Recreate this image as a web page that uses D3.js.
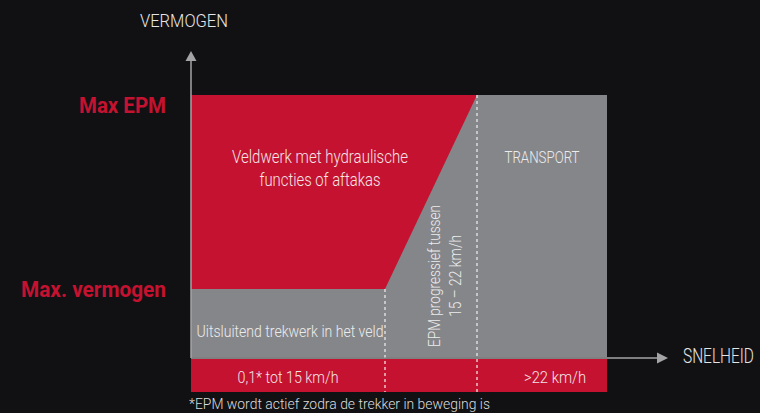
<!DOCTYPE html>
<html>
<head>
<meta charset="utf-8">
<script src="https://cdn.jsdelivr.net/npm/d3@7"></script>
<style>
  html, body { margin: 0; padding: 0; background: #111114; }
  svg { display: block; }
  text { font-family: "Roboto", "Liberation Sans", sans-serif; }
</style>
</head>
<body>
<div id="chart"></div>
<script>
// Data
var speedBreaks = [0, 15, 22, 32];          // km/h, last one = end of drawn range
var powerLevels = [0, 100, 380];            // 0, max. vermogen, max EPM (relative)
var levelLabels = ["Max. vermogen", "Max EPM"];
var zoneLabels = ["0,1* tot 15 km/h", "", ">22 km/h"];
var axisTitles = ["VERMOGEN", "SNELHEID"];
var footnote = "*EPM wordt actief zodra de trekker in beweging is";

var width = 760, height = 413;
var red = "#c41230", grey = "#858689", axisCol = "#a4a4a6";

var x = d3.scaleLinear().domain(speedBreaks).range([191, 385, 477, 607]);
var y = d3.scaleLinear().domain(powerLevels).range([358, 289, 95]);

var svg = d3.select("#chart").append("svg")
    .attr("width", width)
    .attr("height", height);

svg.append("rect").attr("width", width).attr("height", height).attr("fill", "#111114");

// squeeze text to look like the condensed face of the original
function txt(parent, s, px, py, size, w, anchor, col, weight) {
    return parent.append("text")
        .attr("x", px).attr("y", py)
        .attr("text-anchor", anchor || "middle")
        .attr("fill", col || "#ececec")
        .attr("font-size", size)
        .attr("font-weight", weight || 300)
        .attr("textLength", w)
        .attr("lengthAdjust", "spacingAndGlyphs")
        .text(s);
}

// grey base block
svg.append("rect")
    .attr("x", x(speedBreaks[0]))
    .attr("y", y(powerLevels[2]))
    .attr("width", x(speedBreaks[3]) - x(speedBreaks[0]))
    .attr("height", y(powerLevels[0]) - y(powerLevels[2]) - 1)
    .attr("fill", grey);

// red EPM area
var line = d3.line().x(function(d){ return x(d[0]); }).y(function(d){ return y(d[1]); });
svg.append("path")
    .attr("d", line([[0, 380], [22, 380], [15, 100], [0, 100]]) + "Z")
    .attr("fill", red);

// bottom red band
svg.append("rect")
    .attr("x", x(speedBreaks[0]))
    .attr("y", y(0) + 1)
    .attr("width", x(speedBreaks[3]) - x(speedBreaks[0]))
    .attr("height", 33)
    .attr("fill", red);

// dashed dividers
[15, 22].forEach(function(s){
    svg.append("line")
        .attr("x1", x(s)).attr("x2", x(s))
        .attr("y1", s === 15 ? y(100) : y(380)).attr("y2", y(0) + 34)
        .attr("stroke", "#f0f0f0").attr("stroke-width", 1.2)
        .attr("stroke-dasharray", "3,3");
});

// axes
svg.append("line").attr("x1", 191).attr("x2", 191).attr("y1", 60).attr("y2", y(0))
    .attr("stroke", axisCol).attr("stroke-width", 1.5);
svg.append("path").attr("d", "M185.5,61 L191,51 L196.5,61 Z").attr("fill", axisCol);
svg.append("line").attr("x1", 191).attr("x2", 658).attr("y1", y(0)).attr("y2", y(0))
    .attr("stroke", axisCol).attr("stroke-width", 1.5);
svg.append("path").attr("d", "M657,352.5 L668,358 L657,363.5 Z").attr("fill", axisCol);

txt(svg, axisTitles[0], 140, 27, 18, 88, "start", "#e6e6e6");

// x title: squeezed with a transform so it stays inside the frame
var snel = svg.append("g").attr("transform", "translate(683,363)");
var snelT = snel.append("text")
    .attr("fill", "#e6e6e6").attr("font-size", 20).attr("font-weight", 300)
    .text(axisTitles[1]);
var natural = snelT.node().getComputedTextLength();
snel.attr("transform", "translate(683,363) scale(" + (71 / natural) + ",1)");

// level labels
var lvlW = [145, 87];
svg.selectAll("text.level").data(levelLabels).enter().append("text")
    .attr("class", "level")
    .attr("x", 166)
    .attr("y", function(d, i){ return y(powerLevels[i + 1]) + (i === 0 ? 8 : 18); })
    .attr("text-anchor", "end")
    .attr("fill", red)
    .attr("font-weight", "bold")
    .attr("font-size", 22)
    .attr("textLength", function(d, i){ return lvlW[i]; })
    .attr("lengthAdjust", "spacingAndGlyphs")
    .text(function(d){ return d; });

// area texts
txt(svg, "Veldwerk met hydraulische", 320, 163, 18, 176, "middle", "#f3e4e7");
txt(svg, "functies of aftakas", 320, 186, 18, 121, "middle", "#f3e4e7");
txt(svg, "TRANSPORT", 542, 163, 17, 75);
txt(svg, "Uitsluitend trekwerk in het veld", (x(0) + x(15)) / 2 + 2, 337, 17, 187);

var zoneW = [101, 0, 62];
svg.selectAll("text.zone").data(zoneLabels).enter().append("text")
    .attr("class", "zone")
    .attr("x", function(d, i){ return (x(speedBreaks[i]) + x(speedBreaks[i + 1])) / 2 + (i === 2 ? 13 : 0); })
    .attr("y", 383)
    .attr("text-anchor", "middle")
    .attr("fill", "#f3e4e7")
    .attr("font-size", 17)
    .attr("font-weight", 300)
    .attr("textLength", function(d, i){ return zoneW[i] || null; })
    .attr("lengthAdjust", "spacingAndGlyphs")
    .text(function(d){ return d; });

// rotated transition text
var rot = svg.append("g").attr("transform", "translate(440,276) rotate(-90)");
txt(rot, "EPM progressief tussen", 0, 0, 17, 142);
txt(rot, "15 – 22 km/h", 0, 21, 17, 82);

txt(svg, footnote, 189, 409, 15.5, 301, "start", "#dcdcdc");
</script>
</body>
</html>
